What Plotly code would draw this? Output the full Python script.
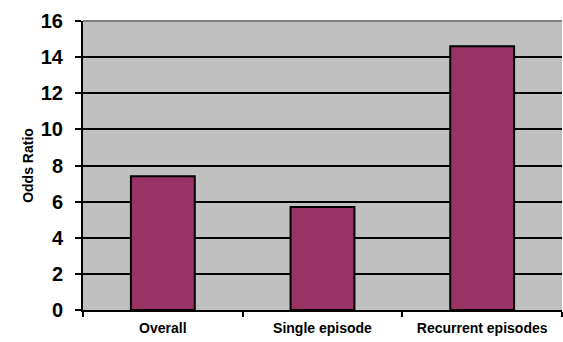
import plotly.graph_objects as go

categories = ["Overall", "Single episode", "Recurrent episodes"]
odds_ratio = [7.4, 5.7, 14.6]
y_ticks = [0, 2, 4, 6, 8, 10, 12, 14, 16]

fig = go.Figure()
fig.add_trace(go.Bar(
    x=categories, y=odds_ratio,
    marker=dict(color="#993366", line=dict(color="black", width=2)),
    width=0.4,
))
fig.update_layout(
    width=563, height=342,
    margin=dict(l=83, r=1, t=21, b=32),
    paper_bgcolor="white", plot_bgcolor="#C0C0C0",
    showlegend=False,
    font=dict(family="Arial, Liberation Sans, sans-serif", color="black"),
)
fig.update_yaxes(
    range=[0, 16], tickvals=y_ticks, ticktext=[f"<b>{v}</b>" for v in y_ticks],
    tickfont=dict(size=20, family="Arial, Liberation Sans", weight="bold"),
    showgrid=True, gridcolor="black", gridwidth=2,
    showline=True, linecolor="black", linewidth=2,
    ticks="outside", ticklen=6, tickwidth=2, tickcolor="black",
    ticklabelstandoff=8,
    zeroline=False,
    title=dict(text="<b>Odds Ratio</b>", font=dict(size=14), standoff=4),
)
fig.update_xaxes(
    tickvals=categories, ticktext=[f"<b>{c}</b>" for c in categories],
    tickfont=dict(size=14, family="Arial, Liberation Sans", weight="bold"),
    showline=True, linecolor="black", linewidth=2,
    ticks="outside", tickson="boundaries", ticklen=5, tickwidth=2, tickcolor="black",
    ticklabelstandoff=4,
    showgrid=False,
)
fig.add_shape(type="line", xref="paper", yref="paper", x0=0, x1=1, y0=1, y1=1,
              line=dict(color="#808080", width=2))
fig.write_html("out.html")
